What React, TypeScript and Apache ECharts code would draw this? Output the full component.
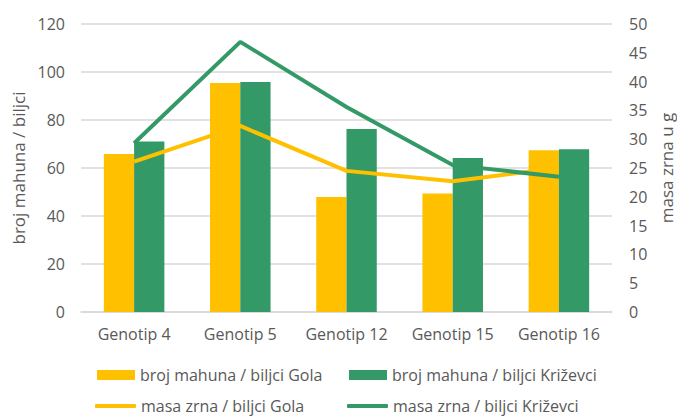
import React, { useEffect, useRef } from "react";
import * as echarts from "echarts";

const categories = ["Genotip 4", "Genotip 5", "Genotip 12", "Genotip 15", "Genotip 16"];
const barGola = [65.8, 95.4, 47.9, 49.4, 67.4];
const barKrizevci = [71, 95.8, 76.3, 64.2, 67.8];
const lineGola = [26.1, 32.3, 24.5, 22.7, 25.0];
const lineKrizevci = [29.3, 46.9, 35.6, 25.5, 23.5];

const YELLOW = "#FFC000";
const GREEN = "#339966";
const TEXT = "#595959";
const FONT = "Open Sans";

export default function App() {
  const ref = useRef<HTMLDivElement>(null);
  useEffect(() => {
    const chart = echarts.init(ref.current!, null, { renderer: "svg" });
    const legendText = { color: TEXT, fontSize: 16, fontFamily: FONT };
    const mkLegend = (name: string, left: number, top: number, isLine: boolean) => ({
      left, top,
      padding: 0,
      itemWidth: isLine ? 41 : 38,
      itemHeight: isLine ? 4 : 10,
      itemGap: 4,
      icon: isLine ? "roundRect" : "rect",
      textStyle: legendText,
      data: [name],
    });
    chart.setOption({
      animation: false,
      textStyle: { fontFamily: FONT },
      grid: { left: 81, right: 65, top: 24, bottom: 105, outerBoundsMode: "none" },
      legend: [
        mkLegend("broj mahuna / biljci Gola", 97, 367, false),
        mkLegend("broj mahuna / biljci Križevci", 349, 367, false),
        mkLegend("masa zrna / biljci Gola", 95, 398, true),
        mkLegend("masa zrna / biljci Križevci", 347, 398, true),
      ],
      xAxis: {
        type: "category",
        data: categories,
        boundaryGap: true,
        axisLine: { lineStyle: { color: "#d9d9d9", width: 1.5 } },
        axisTick: { show: false },
        axisLabel: { color: TEXT, fontSize: 16, fontFamily: FONT, margin: 14, interval: 0 },
      },
      yAxis: [
        {
          type: "value", min: 0, max: 120, interval: 20,
          name: "broj mahuna / biljci", nameLocation: "middle", nameGap: 51,
          nameTextStyle: { color: TEXT, fontSize: 17, fontFamily: FONT },
          axisLabel: { color: TEXT, fontSize: 16, fontFamily: FONT, margin: 16 },
          splitLine: { lineStyle: { color: "#d9d9d9", width: 1.5 } },
          axisLine: { show: false }, axisTick: { show: false },
        },
        {
          type: "value", min: 0, max: 50, interval: 5,
          name: "masa zrna u g", nameLocation: "middle", nameGap: 46,
          nameRotate: 90,
          nameTextStyle: { color: TEXT, fontSize: 17, fontFamily: FONT },
          axisLabel: { color: TEXT, fontSize: 16, fontFamily: FONT, margin: 17 },
          splitLine: { show: false },
          axisLine: { show: false }, axisTick: { show: false },
        },
      ],
      series: [
        {
          name: "broj mahuna / biljci Gola", type: "bar", data: barGola,
          itemStyle: { color: YELLOW }, barGap: "0%", barCategoryGap: "43%",
        },
        {
          name: "broj mahuna / biljci Križevci", type: "bar", data: barKrizevci,
          itemStyle: { color: GREEN }, barGap: "0%", barCategoryGap: "43%",
        },
        {
          name: "masa zrna / biljci Gola", type: "line", yAxisIndex: 1, data: lineGola,
          symbol: "none", lineStyle: { color: YELLOW, width: 4 }, itemStyle: { color: YELLOW },
        },
        {
          name: "masa zrna / biljci Križevci", type: "line", yAxisIndex: 1, data: lineKrizevci,
          symbol: "none", lineStyle: { color: GREEN, width: 4 }, itemStyle: { color: GREEN },
        },
      ],
    });
    return () => chart.dispose();
  }, []);
  return <div ref={ref} style={{ width: 677, height: 417, position: "absolute", left: 0, top: 0 }} />;
}
